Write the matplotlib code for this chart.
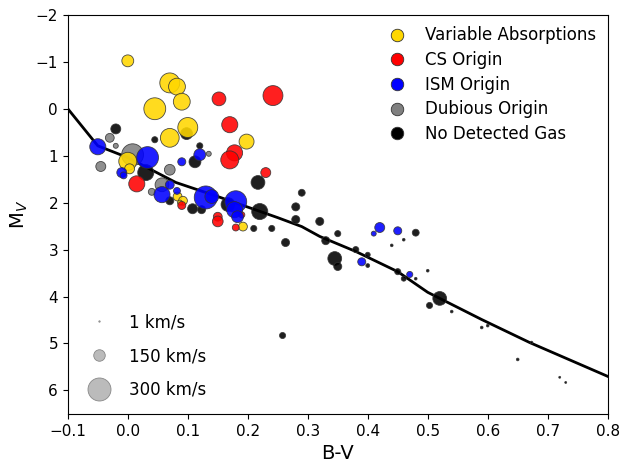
import numpy as np
import matplotlib
matplotlib.use("Agg")
import matplotlib.pyplot as plt
from matplotlib.lines import Line2D

# main sequence track
ms_bv = [-0.10, -0.05, 0.00, 0.08, 0.15, 0.25, 0.29, 0.32, 0.38, 0.45, 0.50, 0.59, 0.67, 0.80]
ms_mv = [0.0, 0.79, 1.04, 1.57, 1.87, 2.32, 2.51, 2.72, 3.04, 3.47, 3.91, 4.49, 4.98, 5.70]

# Variable Absorptions
var_bv = [0.00, 0.07, 0.082, 0.09, 0.045, 0.10, 0.07, 0.198, 0.00, 0.003, 0.083, 0.092, 0.087, 0.192]
var_mv = [-1.02, -0.55, -0.47, -0.15, 0.00, 0.40, 0.62, 0.70, 1.12, 1.28, 1.87, 1.96, 2.00, 2.51]
var_vs = [155, 260, 220, 220, 285, 260, 245, 195, 235, 130, 115, 115, 65, 115]

# CS Origin
cs_bv = [0.152, 0.242, 0.17, 0.178, 0.17, 0.23, 0.015, 0.15, 0.15, 0.18, 0.09, 0.19]
cs_mv = [-0.21, -0.28, 0.34, 0.94, 1.09, 1.36, 1.60, 2.30, 2.40, 2.53, 2.06, 2.26]
cs_vs = [180, 260, 210, 210, 235, 130, 210, 115, 140, 90, 105, 80]

# ISM Origin
ism_bv = [-0.05, 0.033, -0.01, -0.007, 0.057, 0.07, 0.082, 0.09, 0.12, 0.13, 0.14,
          0.18, 0.178, 0.183, 0.42, 0.41, 0.45, 0.39, 0.47]
ism_mv = [0.81, 1.04, 1.36, 1.42, 1.83, 1.62, 1.75, 1.13, 0.98, 1.89, 1.87,
          1.98, 2.15, 2.30, 2.53, 2.66, 2.60, 3.26, 3.53]
ism_vs = [210, 285, 130, 90, 210, 115, 90, 105, 155, 300, 180,
          285, 210, 155, 130, 65, 105, 105, 80]

# Dubious Origin
dub_bv = [-0.03, -0.02, 0.008, -0.045, 0.07, 0.057, 0.04, 0.135]
dub_mv = [0.62, 0.79, 0.98, 1.23, 1.30, 1.62, 1.77, 0.96]
dub_vs = [115, 65, 285, 130, 140, 180, 90, 65]

# No Detected Gas
non_bv = [-0.02, 0.045, 0.098, 0.12, 0.112, 0.03, 0.217, 0.07, 0.108, 0.123, 0.167,
          0.22, 0.21, 0.24, 0.29, 0.28, 0.28, 0.32, 0.263, 0.33, 0.35, 0.345, 0.35,
          0.38, 0.40, 0.40, 0.48, 0.46, 0.44, 0.45, 0.46, 0.48, 0.50, 0.258, 0.52,
          0.503, 0.54, 0.59, 0.60, 0.673, 0.65, 0.72, 0.73]
non_mv = [0.43, 0.66, 0.53, 0.79, 1.13, 1.36, 1.57, 1.96, 2.13, 2.15, 2.04,
          2.19, 2.55, 2.55, 1.79, 2.09, 2.36, 2.40, 2.85, 2.81, 2.66, 3.19, 3.36,
          3.00, 3.11, 3.34, 2.64, 2.79, 2.91, 3.47, 3.62, 3.62, 3.45, 4.83, 4.04,
          4.19, 4.32, 4.66, 4.62, 4.98, 5.34, 5.72, 5.83]
non_vs = [130, 80, 155, 80, 155, 210, 180, 105, 130, 105, 180,
          210, 80, 80, 90, 105, 105, 105, 105, 105, 80, 180, 105,
          80, 65, 50, 90, 35, 35, 80, 65, 35, 35, 80, 180,
          80, 35, 35, 35, 35, 35, 25, 25]

cat_labels = ["Variable Absorptions", "CS Origin", "ISM Origin", "Dubious Origin", "No Detected Gas"]
cat_colors = ["#FFD700", "#FF0000", "#0000FF", "#808080", "#000000"]
size_labels = ["1 km/s", "150 km/s", "300 km/s"]
size_vals = [1, 150, 300]

k = 0.0552  # points of diameter per km/s


def msize(v):
    return (np.asarray(v) * k) ** 2


fig = plt.figure(figsize=(6.22, 4.63), dpi=100)
ax = fig.add_axes([0.109, 0.106, 0.868, 0.862])

ax.plot(ms_bv, ms_mv, color="black", lw=2, zorder=1)

groups = [(non_bv, non_mv, non_vs), (dub_bv, dub_mv, dub_vs), (var_bv, var_mv, var_vs),
          (cs_bv, cs_mv, cs_vs), (ism_bv, ism_mv, ism_vs)]
gcolors = [cat_colors[4], cat_colors[3], cat_colors[0], cat_colors[1], cat_colors[2]]
for (bx, my, vs), c in zip(groups, gcolors):
    ax.scatter(bx, my, s=msize(vs), color=c, edgecolor="#333333", linewidth=0.6,
               alpha=0.88, zorder=2)

ax.set_xlim(-0.1, 0.8)
ax.set_ylim(6.5, -2)
ax.set_xticks(np.arange(-0.1, 0.81, 0.1))
ax.set_yticks(np.arange(-2, 7, 1))
ax.tick_params(labelsize=11)
ax.set_xlabel("B-V", fontsize=14)
ax.set_ylabel("M$_V$", fontsize=14)

handles = [Line2D([], [], marker="o", ls="", markersize=9, markerfacecolor=c,
                  markeredgecolor="#333333", markeredgewidth=0.6) for c in cat_colors]
leg1 = ax.legend(handles, cat_labels, loc="upper right", frameon=False, fontsize=12,
                 handletextpad=0.7, labelspacing=0.4, borderaxespad=0.3)
ax.add_artist(leg1)

shandles = [Line2D([], [], marker="o", ls="", markersize=max(v * k, 1), markerfacecolor="#BBBBBB",
                   markeredgecolor="#888888", markeredgewidth=0.6) for v in size_vals]
ax.legend(shandles, size_labels, loc="lower left", frameon=False, fontsize=12,
          handletextpad=0.8, labelspacing=0.95, borderpad=0.3, borderaxespad=0.6)

fig.savefig("out.png", dpi=100)
